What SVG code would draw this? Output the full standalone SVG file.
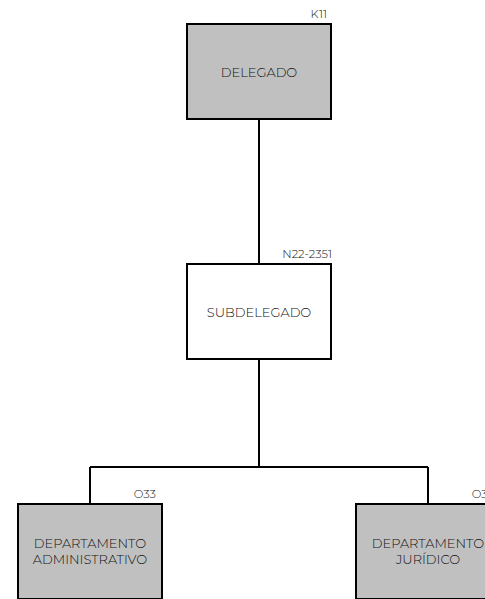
<svg xmlns="http://www.w3.org/2000/svg" width="485" height="599" viewBox="0 0 485 599">
<style>
.box{stroke:#000;stroke-width:2}
.gray{fill:#c0c0c0}
.white{fill:#fff}
.t{font-family:"Montserrat","Lato","Liberation Sans",sans-serif;font-weight:300;font-size:13px;fill:#111;text-anchor:middle}
.c{font-family:"Montserrat","Lato","Liberation Sans",sans-serif;font-weight:300;font-size:11.5px;fill:#111;text-anchor:end}
.ln{stroke:#000;stroke-width:2;fill:none}
</style>
<rect width="485" height="599" fill="#fff"/>
<g id="connectors">
<path class="ln" d="M259 119 V264"/>
<path class="ln" d="M259 359 V467"/>
<path class="ln" d="M90 467 H428"/>
<path class="ln" d="M90 467 V504"/>
<path class="ln" d="M428 467 V504"/>
</g>
<g id="delegado">
<rect class="box gray" x="187" y="24" width="144" height="95"/>
<text class="t" x="259" y="77">DELEGADO</text>
<text class="c" x="327" y="18">K11</text>
</g>
<g id="subdelegado">
<rect class="box white" x="187" y="264" width="144" height="95"/>
<text class="t" x="259" y="317">SUBDELEGADO</text>
<text class="c" x="332" y="258">N22-2351</text>
</g>
<g id="dep-admin">
<rect class="box gray" x="18" y="504" width="144" height="95"/>
<text class="t" x="90" y="548">DEPARTAMENTO</text>
<text class="t" x="90" y="564">ADMINISTRATIVO</text>
<text class="c" x="156" y="498">O33</text>
</g>
<g id="dep-juridico">
<rect class="box gray" x="356" y="504" width="144" height="95"/>
<text class="t" x="428" y="548">DEPARTAMENTO</text>
<text class="t" x="428" y="564">JURÍDICO</text>
<text class="c" x="494" y="498">O33</text>
</g>
</svg>
